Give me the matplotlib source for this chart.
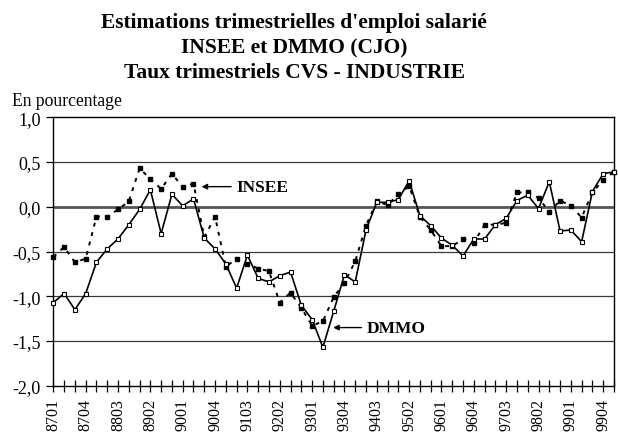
import sys

import matplotlib
matplotlib.use('Agg')
import matplotlib.pyplot as pyplot

# quarters 8701 .. 0001
periods = ['8701', '8702', '8703', '8704', '8801', '8802', '8803', '8804',
           '8901', '8902', '8903', '8904', '9001', '9002', '9003', '9004',
           '9101', '9102', '9103', '9104', '9201', '9202', '9203', '9204',
           '9301', '9302', '9303', '9304', '9401', '9402', '9403', '9404',
           '9501', '9502', '9503', '9504', '9601', '9602', '9603', '9604',
           '9701', '9702', '9703', '9704', '9801', '9802', '9803', '9804',
           '9901', '9902', '9903', '9904', '0001']

insee = [-0.56, -0.45, -0.62, -0.58, -0.11, -0.11, -0.03, 0.06, 0.43, 0.31,
         0.20, 0.37, 0.22, 0.26, -0.34, -0.11, -0.67, -0.58, -0.64, -0.69,
         -0.72, -1.07, -0.96, -1.13, -1.33, -1.28, -1.01, -0.85, -0.61, -0.21,
         0.06, 0.02, 0.14, 0.23, -0.11, -0.26, -0.44, -0.44, -0.36, -0.40,
         -0.20, -0.20, -0.18, 0.16, 0.16, 0.10, -0.06, 0.07, 0.01, -0.12,
         0.16, 0.30, 0.39]

dmmo = [-1.07, -0.97, -1.15, -0.97, -0.62, -0.47, -0.36, -0.20, -0.03, 0.19,
        -0.30, 0.14, 0.01, 0.09, -0.35, -0.47, -0.64, -0.91, -0.54, -0.80,
        -0.84, -0.77, -0.73, -1.10, -1.26, -1.57, -1.17, -0.76, -0.84, -0.26,
        0.05, 0.05, 0.08, 0.29, -0.10, -0.21, -0.35, -0.43, -0.55, -0.36,
        -0.36, -0.20, -0.13, 0.07, 0.13, -0.02, 0.28, -0.27, -0.26, -0.39,
        0.17, 0.37, 0.39]

yticks = [-2.0, -1.5, -1.0, -0.5, 0.0, 0.5, 1.0]

SERIF = 'Liberation Serif'


def main():
    pyplot.rcParams['font.family'] = SERIF
    fig = pyplot.figure(figsize=(6.18, 4.39), dpi=100)
    ax = fig.add_axes([0.0863, 0.1191, 0.9935 - 0.0863, 0.7305 - 0.1191])

    xs = list(range(len(periods)))

    # grid + thicker zero line
    for v in yticks[1:-1]:
        if v == 0.0:
            ax.axhline(v, color='#555555', lw=2.0, zorder=1)
        else:
            ax.axhline(v, color='#3a3a3a', lw=0.9, zorder=1)

    ax.plot(xs, insee, color='black', lw=1.4, linestyle=(0, (2.0, 3.0)),
            marker='s', ms=3.3, mfc='black', mec='black', clip_on=False, zorder=3)
    ax.plot(xs, dmmo, color='black', lw=1.2, linestyle='-',
            marker='s', ms=3.4, mfc='white', mec='black', mew=0.8,
            clip_on=False, zorder=4)

    ax.set_xlim(0, len(periods) - 1)
    ax.set_ylim(-2.0, 1.0)
    ax.set_yticks(yticks)
    ax.set_yticklabels([f"{v:.1f}".replace('.', ',') for v in yticks], fontsize=13)
    ax.set_xticks(xs)
    ax.set_xticklabels([p if i % 3 == 0 else '' for i, p in enumerate(periods)],
                       rotation=90, fontsize=11.5)
    ax.tick_params(axis='x', direction='inout', length=8, width=0.9, pad=5)
    ax.tick_params(axis='y', direction='out', length=5, width=0.9, pad=4)

    for s in ax.spines.values():
        s.set_color('black')
        s.set_linewidth(1.0)

    ax.annotate('INSEE', xy=(13.75, 0.225), xytext=(17.0, 0.225),
                ha='left', va='center', fontsize=12.5, fontweight='bold',
                arrowprops=dict(arrowstyle='-|>', color='black', lw=1.0,
                                mutation_scale=8, shrinkA=2, shrinkB=0))
    ax.annotate('DMMO', xy=(25.95, -1.35), xytext=(29.1, -1.35),
                ha='left', va='center', fontsize=12.5, fontweight='bold',
                arrowprops=dict(arrowstyle='-|>', color='black', lw=1.0,
                                mutation_scale=8, shrinkA=2, shrinkB=0))

    fig.text(294 / 618, 1 - 23 / 439, "Estimations trimestrielles d'emploi salarié",
             ha='center', va='center', fontsize=15.5, fontweight='bold')
    fig.text(294 / 618, 1 - 48 / 439, "INSEE et DMMO (CJO)",
             ha='center', va='center', fontsize=15.5, fontweight='bold')
    fig.text(294 / 618, 1 - 73 / 439, "Taux trimestriels CVS - INDUSTRIE",
             ha='center', va='center', fontsize=15.5, fontweight='bold')
    fig.text(12 / 618, 1 - 101 / 439, "En pourcentage",
             ha='left', va='center', fontsize=12.7)

    fig.savefig('out.png', dpi=100)


if __name__ == "__main__":
    sys.exit(main())
